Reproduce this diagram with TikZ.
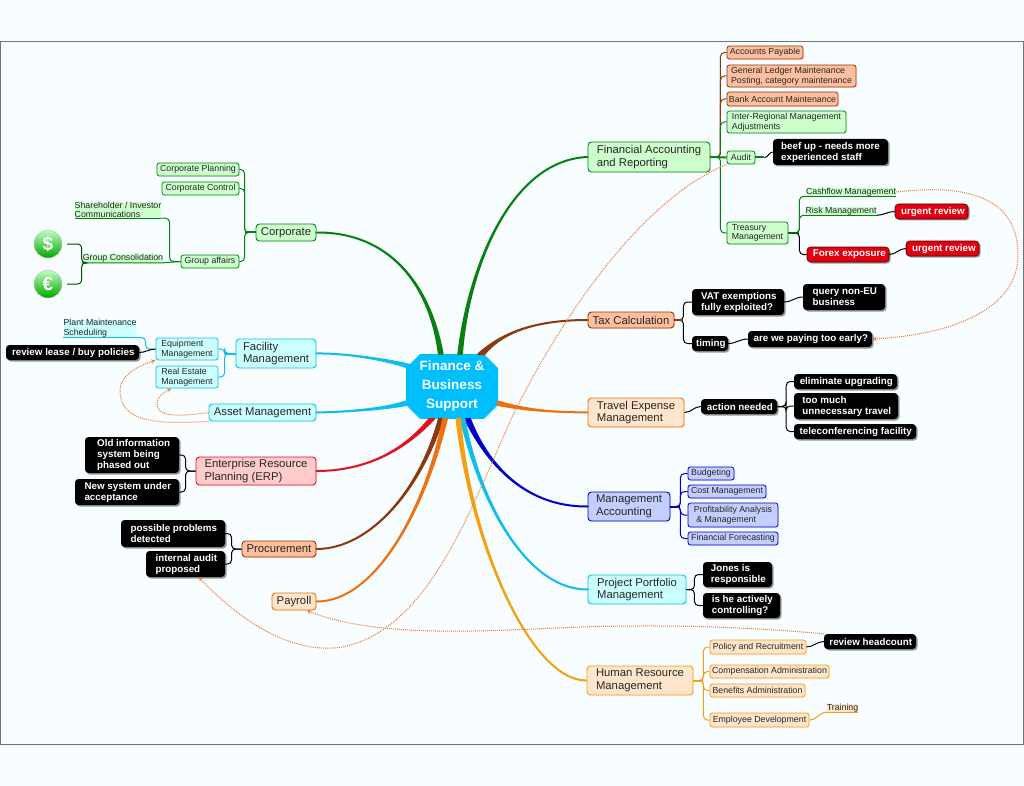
\documentclass[tikz,border=0pt]{standalone}
\usepackage{fontspec}
\setmainfont{Liberation Sans}
\usetikzlibrary{shadows, arrows, positioning, shapes.misc}

\definecolor{hubblue}{HTML}{00BFFF}
\definecolor{paper}{HTML}{F8FDFF}
\definecolor{greenline}{HTML}{0A7F14}
\definecolor{greentint}{HTML}{CCFFCC}
\definecolor{rustline}{HTML}{8B3A10}
\definecolor{salmontint}{HTML}{FFBF9F}
\definecolor{orangeline}{HTML}{EE7010}
\definecolor{peachtint}{HTML}{FFE5CC}
\definecolor{blueline}{HTML}{0000CC}
\definecolor{bluetint}{HTML}{C5CFFF}
\definecolor{cyanline}{HTML}{12BDEE}
\definecolor{cyantint}{HTML}{CCFFFF}
\definecolor{amberline}{HTML}{F5A012}
\definecolor{redline}{HTML}{E6101E}
\definecolor{pinktint}{HTML}{FFCCCC}
\definecolor{alarmred}{HTML}{E00010}
\definecolor{dotline}{HTML}{E8803A}

\tikzset{
  box/.style 2 args={minimum width=#1pt,minimum height=#2pt,inner sep=0pt,align=left},
  topicbox/.style 2 args={draw=#1,fill=#2,line width=0.9pt,rounded corners=3.5pt,text=black!85,
    font=\fontsize{11.3}{12.6}\selectfont,
    drop shadow={shadow xshift=1pt,shadow yshift=-1pt,opacity=0.45,fill=#2}},
  leafbox/.style 2 args={draw=#1,fill=#2,line width=0.8pt,rounded corners=2.5pt,text=black!85,
    font=\fontsize{8.8}{9.6}\selectfont,
    drop shadow={shadow xshift=1pt,shadow yshift=-1pt,opacity=0.45,fill=#2}},
  linetopic/.style={fill=#1,text=black!85,font=\fontsize{8.8}{9.6}\selectfont,inner sep=0pt,align=left},
  notebox/.style={fill=black,rounded corners=3.5pt,text=white,inner sep=0pt,align=left,
    font=\bfseries\fontsize{9.8}{11}\selectfont,
    drop shadow={shadow xshift=1.5pt,shadow yshift=-1.5pt,opacity=0.4,fill=black}},
  alarmbox/.style={notebox,fill=alarmred,draw=black!60!alarmred,line width=0.6pt},
  coin/.style={circle,minimum size=28pt,inner sep=0pt,outer sep=5pt,draw=black!25,top color=green!25!white,
    bottom color=green!65!black,text=white,font=\bfseries\fontsize{19}{19}\selectfont},
  twig/.style={rounded corners=4pt,line width=1pt},
  stub/.style={line width=2pt},
  notelink/.style={line width=1pt,black},
  seealso/.style={dotline,densely dotted,line width=1pt,->,>=stealth},
}

\newcommand{\branch}[6]{\draw[color=#1,fill=#1,line width=2pt,line join=round]
  (hub.#2) .. controls #5 and #6 .. (#4) .. controls #6 and #5 .. (hub.#3) -- cycle;}

\begin{document}
\begin{tikzpicture}[x=1pt,y=-1pt]
\useasboundingbox (0,0) rectangle (1024,786);
\fill[paper] (0,0) rectangle (1024,786);
\draw[black!55,line width=1pt] (0.5,41.5) rectangle (1023.5,744.5);

% centre
\node[chamfered rectangle,chamfered rectangle xsep=7pt,chamfered rectangle ysep=7pt,fill=hubblue,
  minimum width=92pt,minimum height=63pt,inner sep=0pt,align=center,text=white,
  font=\bfseries\fontsize{13.5}{19}\selectfont] (hub) at (452,386.5) {Finance \&\\Business\\Support};

% right side topics
\node[box={122}{30},topicbox={greenline}{greentint}] (finance) at (649,157) {Financial Accounting\\and Reporting};
\node[box={86}{16},topicbox={rustline}{salmontint}] (tax) at (631,320) {Tax Calculation};
\node[box={96}{29},topicbox={orangeline}{peachtint}] (travel) at (636,412.5) {Travel Expense\\Management};
\node[box={82}{29},topicbox={blueline}{bluetint}] (mgmt) at (629,506.5) {Management\\Accounting};
\node[box={98}{29},topicbox={cyanline}{cyantint}] (portfolio) at (637,589.5) {Project Portfolio\\Management};
\node[box={106}{29},topicbox={amberline}{peachtint}] (hr) at (640,680.5) {Human Resource\\Management};

% left side topics
\node[box={60}{17},topicbox={greenline}{greentint}] (corporate) at (286,232.5) {Corporate};
\node[box={80}{29},topicbox={cyanline}{cyantint}] (facility) at (276,353.5) {Facility\\Management};
\node[box={107}{17},topicbox={cyanline}{cyantint}] (asset) at (262.5,412.5) {Asset Management};
\node[box={120}{28},topicbox={redline}{pinktint}] (erp) at (256,471) {Enterprise Resource\\Planning (ERP)};
\node[box={74}{16},topicbox={rustline}{salmontint}] (procure) at (279,549) {Procurement};
\node[box={44}{17},topicbox={orangeline}{peachtint}] (payroll) at (294,601.5) {Payroll};

% financial accounting
\node[box={76}{13},leafbox={rustline}{salmontint}] (payable) at (765,52.5) {Accounts Payable};
\node[box={129}{22},leafbox={rustline}{salmontint}] (ledger) at (791.5,76) {General Ledger Maintenance\\Posting, category maintenance};
\node[box={111}{14},leafbox={rustline}{salmontint}] (bank) at (782.5,99) {Bank Account Maintenance};
\node[box={119}{22},leafbox={greenline}{greentint}] (regional) at (786.5,122) {Inter-Regional Management\\Adjustments};
\node[box={28}{13},leafbox={greenline}{greentint}] (audit) at (741,157.5) {Audit};
\node[box={115}{26},notebox] (beef) at (830.5,152) {beef up - needs more\\experienced staff};
\node[box={61}{22},leafbox={greenline}{greentint}] (treasury) at (757.5,233) {Treasury\\Management};
\node[linetopic=greentint] (cashflow) at (851,192) {Cashflow Management};
\node[linetopic=greentint] (risk) at (841,211) {Risk Management};
\node[box={73}{15},alarmbox] (urgenta) at (931.5,211.5) {\ urgent review};
\node[box={82}{15},alarmbox] (forex) at (848,254.5) {\ Forex exposure};
\node[box={73}{15},alarmbox] (urgentb) at (942.5,248.5) {\ urgent review};

% tax
\node[box={92}{26},notebox] (vat) at (738,302) {\,VAT exemptions\\\,fully exploited?};
\node[box={36}{15},notebox] (timing) at (710,343.5) {\,timing};
\node[box={82}{26},notebox] (query) at (844,297) {\,query non-EU\\\,business};
\node[box={124}{16},notebox] (early) at (810,339) {\,are we paying too early?};

% travel
\node[box={76}{15},notebox] (action) at (739,406.5) {\,action needed};
\node[box={103}{15},notebox] (upgrading) at (845.5,381.5) {\,eliminate upgrading};
\node[box={104}{26},notebox] (toomuch) at (846,406) {\,too much\\\,unnecessary travel};
\node[box={122}{15},notebox] (teleconf) at (855,431.5) {\,teleconferencing facility};

% management accounting
\node[box={46}{13},leafbox={blueline}{bluetint}] (budget) at (711,473.5) {Budgeting};
\node[box={78}{13},leafbox={blueline}{bluetint}] (cost) at (727,491.5) {Cost Management};
\node[box={90}{24},leafbox={blueline}{bluetint}] (profit) at (733,515) {Profitability Analysis\\\ \& Management};
\node[box={90}{13},leafbox={blueline}{bluetint}] (forecast) at (733,538.5) {Financial Forecasting};

% project portfolio
\node[box={69}{25},notebox] (jones) at (737.5,574.5) {\,Jones is\\\,responsible};
\node[box={77}{25},notebox] (actively) at (741.5,605.5) {\,is he actively\\\,controlling?};

% human resources
\node[box={96}{14},leafbox={amberline}{peachtint}] (policy) at (758,647) {Policy and Recruitment};
\node[box={119}{13},leafbox={amberline}{peachtint}] (compens) at (769.5,671.5) {Compensation Administration};
\node[box={95}{13},leafbox={amberline}{peachtint}] (benefits) at (757.5,690.5) {Benefits Administration};
\node[box={99}{14},leafbox={amberline}{peachtint}] (employee) at (759.5,720) {Employee Development};
\node[linetopic=peachtint] (training) at (842.5,708) {Training};
\node[box={92}{15},notebox] (headcount) at (870,641.5) {\,review headcount};

% corporate
\node[box={82}{13},leafbox={greenline}{greentint}] (planning) at (198,169.5) {Corporate Planning};
\node[box={77}{13},leafbox={greenline}{greentint}] (control) at (200.5,188.5) {Corporate Control};
\node[box={58}{13},leafbox={greenline}{greentint}] (affairs) at (210,261.5) {Group affairs};
\node[linetopic=greentint] (holder) at (118,210) {Shareholder / Investor\\Communications};
\node[linetopic=greentint] (consol) at (123,258.5) {Group Consolidation};
\node[coin] (dollar) at (48,244) {\$};
\node[coin] (euro) at (48,284) {€};

% facility
\node[box={62}{22},leafbox={cyanline}{cyantint}] (equip) at (187,349) {Equipment\\Management};
\node[box={62}{22},leafbox={cyanline}{cyantint}] (estate) at (187,377) {Real Estate\\Management};
\node[linetopic=cyantint] (plant) at (100,328.5) {Plant Maintenance\\Scheduling};
\node[box={133}{15},notebox] (lease) at (72.5,352.5) {\,review lease / buy policies};

% erp and procurement
\node[box={94}{36},notebox] (oldinfo) at (132,455) {\,\,Old information\\\,\,system being\\\,\,phased out};
\node[box={104}{26},notebox] (newsys) at (127,492) {\,New system under\\\,acceptance};
\node[box={104}{27},notebox] (problems) at (173,533.5) {\,possible problems\\\,detected};
\node[box={79}{26},notebox] (internal) at (185.5,564) {\,internal audit\\\,proposed};

% branches from the centre
\branch{greenline}{73}{79}{finance.west}{(468,270)}{(510,160)}
\branch{rustline}{45}{51}{tax.west}{(500,335)}{(530,320)}
\branch{orangeline}{-18}{-22}{travel.west}{(530,411)}{(555,412)}
\branch{blueline}{-61}{-68}{mgmt.west}{(490,470)}{(530,507)}
\branch{cyanline}{-69}{-75}{portfolio.west}{(482,510)}{(530,590)}
\branch{amberline}{-76}{-82}{hr.west}{(470,540)}{(530,681)}
\branch{greenline}{106}{112}{corporate.east}{(430,285)}{(390,232)}
\branch{cyanline}{153}{157}{facility.east}{(380,358)}{(340,353)}
\branch{cyanline}{198}{202}{asset.east}{(380,410)}{(340,412)}
\branch{redline}{235}{241}{erp.east}{(400,455)}{(360,471)}
\branch{rustline}{248}{254}{procure.east}{(420,490)}{(370,549)}
\branch{orangeline}{255}{261}{payroll.east}{(425,510)}{(375,602)}

% twigs, right hand
\foreach \kid/\col in {payable/rustline, ledger/rustline, bank/rustline, regional/greenline, treasury/greenline}
  \draw[twig,color=\col] (finance.east) -- ++(10,0) |- (\kid.west);
\draw[stub,greenline] (finance.east) -- (audit.west);
\draw[stub,greenline] (audit.east) -- ++(9,0);
\draw[notelink] (audit.east) ++(9,0) to[out=0,in=180] (beef.west);
\draw[twig,greenline] (treasury.east) -- ++(11,0) |- (cashflow.south west);
\draw[twig,greenline] (treasury.east) -- ++(11,0) |- (risk.south west);
\draw[twig,black] (treasury.east) -- ++(11,0) |- (forex.west);
\draw[stub,black!60!green] (treasury.east) -- ++(11,0);
\foreach \kid/\col in {cashflow/greenline, risk/greenline, training/amberline}
  \draw[color=\col,line width=1pt] (\kid.south west) -- (\kid.south east);
\draw[notelink] (risk.south east) to[out=0,in=180] (urgenta.west);
\draw[notelink] (forex.east) to[out=0,in=180] (urgentb.west);
\foreach \kid in {vat, timing}
  \draw[twig,black] (tax.east) -- ++(9,0) |- (\kid.west);
\draw[stub,rustline] (tax.east) -- ++(9,0);
\draw[notelink] (vat.east) to[out=0,in=180] (query.west);
\draw[notelink] (timing.east) to[out=0,in=180] (early.west);
\draw[notelink] (travel.east) to[out=0,in=180] (action.west);
\foreach \kid in {upgrading, toomuch, teleconf}
  \draw[twig,black] (action.east) -- ++(9,0) |- (\kid.west);
\foreach \kid in {budget, cost, profit, forecast}
  \draw[twig,blueline] (mgmt.east) -- ++(10,0) |- (\kid.west);
\draw[stub,blueline] (mgmt.east) -- ++(10,0);
\foreach \kid in {jones, actively}
  \draw[twig,black] (portfolio.east) -- ++(8,0) |- (\kid.west);
\foreach \kid in {policy, compens, benefits, employee}
  \draw[twig,amberline] (hr.east) -- ++(10,0) |- (\kid.west);
\draw[stub,amberline] (hr.east) -- ++(10,0);
\draw[notelink] (policy.east) to[out=0,in=180] (headcount.west);
\draw[amberline,line width=1pt] (employee.east) to[out=0,in=180] (training.south west);

% twigs, left hand
\foreach \kid in {planning, control, affairs}
  \draw[twig,greenline] (corporate.west) -- ++(-11,0) |- (\kid.east);
\draw[stub,greenline] (corporate.west) -- ++(-11,0);
\draw[twig,greenline] (affairs.west) -- ++(-11,0) |- (holder.south east);
\draw[color=greenline,line width=1pt] (holder.south west) -- (holder.south east);
\draw[color=greenline,line width=1pt] (consol.south west) -- (consol.south east) -- (affairs.west);
\foreach \kid in {dollar, euro}
  \draw[twig,black!70!green] (consol.south west) -- ++(-1,0) |- (\kid.east);
\foreach \kid in {equip, estate}
  \draw[twig,cyanline] (facility.west) -- ++(-11,0) |- (\kid.east);
\draw[stub,cyanline] (facility.west) -- ++(-11,0);
\draw[twig,cyanline] (equip.west) -- ++(-10,0) |- (plant.south east);
\draw[color=cyanline,line width=1pt] (plant.south west) -- (plant.south east);
\draw[notelink] (equip.west) to[out=180,in=0] (lease.east);
\foreach \kid in {oldinfo, newsys}
  \draw[twig,black] (erp.west) -- ++(-10,0) |- (\kid.east);
\foreach \kid in {problems, internal}
  \draw[twig,black] (procure.west) -- ++(-10,0) |- (\kid.east);

% relations
\draw[seealso] (audit.south west) .. controls (640,200) and (560,320) .. (513,415)
  .. controls (470,510) and (430,628) .. (343,647) .. controls (290,655) and (240,620) .. (internal.-45);
\draw[seealso] (cashflow.east) .. controls (980,182) and (1018,205) .. (1018,255)
  .. controls (1018,310) and (950,335) .. (early.east);
\draw[seealso] (headcount.north west) .. controls (760,628) and (680,624) .. (580,627)
  .. controls (500,630) and (380,640) .. (payroll.-35);
\draw[seealso] (asset.south west) .. controls (150,425) and (120,420) .. (120,390)
  .. controls (120,375) and (140,365) .. (equip.south west);
\draw[seealso] (asset.west) .. controls (170,418) and (157,415) .. (157,403)
  .. controls (157,396) and (165,392) .. (estate.216);
\end{tikzpicture}
\end{document}
